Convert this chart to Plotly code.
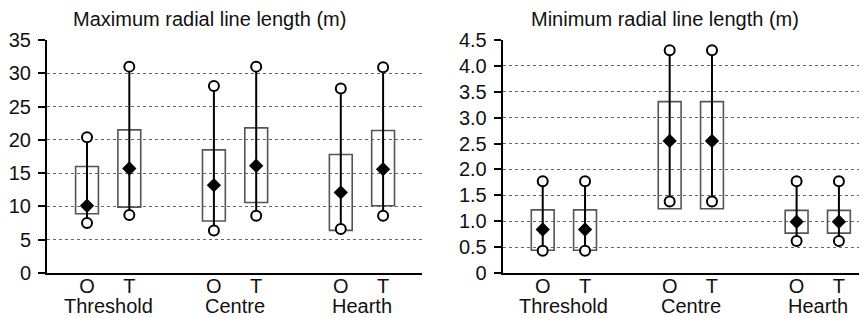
import plotly.graph_objects as go

# positions: O/T pairs for each location
positions = [1, 2, 4, 5, 7, 8]
pair_labels = ["O", "T", "O", "T", "O", "T"]
groups = ["Threshold", "Centre", "Hearth"]
group_pos = [1.5, 4.5, 7.5]

# Maximum radial line length (m)
max_top = [20.4, 31.0, 28.1, 31.0, 27.7, 30.9]
max_box_hi = [16.0, 21.5, 18.5, 21.8, 17.8, 21.4]
max_box_lo = [8.9, 9.9, 7.8, 10.6, 6.4, 10.1]
max_mid = [10.1, 15.7, 13.2, 16.1, 12.1, 15.6]
max_bot = [7.5, 8.7, 6.4, 8.6, 6.6, 8.6]

# Minimum radial line length (m)
min_top = [1.77, 1.77, 4.30, 4.30, 1.77, 1.77]
min_box_hi = [1.22, 1.22, 3.31, 3.31, 1.21, 1.21]
min_box_lo = [0.44, 0.44, 1.24, 1.24, 0.77, 0.77]
min_mid = [0.84, 0.84, 2.55, 2.55, 0.99, 0.99]
min_bot = [0.43, 0.43, 1.38, 1.38, 0.62, 0.62]

W, H = 859, 310  # page body margin of 8px shifts the figure

fig = go.Figure()

def add_panel(xa, ya, top, hi, lo, mid, bot):
    fig.add_trace(go.Bar(
        x=positions, y=[h - l for h, l in zip(hi, lo)], base=lo,
        width=0.54, marker=dict(color="rgba(0,0,0,0)",
                                line=dict(color="#555555", width=1.6)),
        xaxis=xa, yaxis=ya, showlegend=False, hoverinfo="skip"))
    wx, wy = [], []
    for p, t, b in zip(positions, top, bot):
        wx += [p, p, None]
        wy += [t, b, None]
    fig.add_trace(go.Scatter(x=wx, y=wy, mode="lines",
                             line=dict(color="black", width=2),
                             xaxis=xa, yaxis=ya, showlegend=False))
    fig.add_trace(go.Scatter(x=positions + positions, y=top + bot, mode="markers",
                             marker=dict(symbol="circle", size=10, color="white",
                                         line=dict(color="black", width=2)),
                             xaxis=xa, yaxis=ya, showlegend=False))
    fig.add_trace(go.Scatter(x=positions, y=mid, mode="markers",
                             marker=dict(symbol="diamond", size=11, color="black"),
                             xaxis=xa, yaxis=ya, showlegend=False))

add_panel("x", "y", max_top, max_box_hi, max_box_lo, max_mid, max_bot)
add_panel("x2", "y2", min_top, min_box_hi, min_box_lo, min_mid, min_bot)

font = dict(family="Liberation Sans, Arial, sans-serif", size=20, color="#111111")

xcommon = dict(tickvals=positions, ticktext=pair_labels, showgrid=False,
               zeroline=False, showline=True, linecolor="black", linewidth=2,
               ticks="", tickfont=font, automargin=False, ticklabelstandoff=-6)
ycommon = dict(showgrid=True, gridcolor="#666666", griddash="dot", gridwidth=1,
               zeroline=False, showline=True, linecolor="black", linewidth=2,
               ticks="outside", ticklen=7, tickwidth=2, tickcolor="black",
               tickfont=font, automargin=False, ticklabelstandoff=3)

max_ticks = [0, 5, 10, 15, 20, 25, 30, 35]
min_ticks = [0, 0.5, 1.0, 1.5, 2.0, 2.5, 3.0, 3.5, 4.0, 4.5]
min_ticktext = ["0", "0.5", "1.0", "1.5", "2.0", "2.5", "3.0", "3.5", "4.0", "4.5"]

ydom = [(H - 265) / H, (H - 32) / H]

fig.update_layout(
    width=W, height=H,
    margin=dict(l=0, r=0, t=0, b=0, autoexpand=False),
    paper_bgcolor="white", plot_bgcolor="white",
    barmode="overlay",
    xaxis=dict(domain=[39 / W, 414 / W], range=[0.054, 8.92], **xcommon),
    yaxis=dict(domain=ydom, range=[0, 35], tickvals=max_ticks, **ycommon),
    xaxis2=dict(domain=[494.7 / W, 858 / W], range=[0.054, 8.64], anchor="y2", **xcommon),
    yaxis2=dict(domain=ydom, range=[0, 4.5], tickvals=min_ticks,
                ticktext=min_ticktext, anchor="x2", **ycommon),
)

annotations = []
for xa in ["x", "x2"]:
    for g, gp in zip(groups, group_pos):
        annotations.append(dict(x=gp, y=(H - 298) / H, xref=xa, yref="paper",
                                text=g, showarrow=False, font=font,
                                xanchor="center", yanchor="middle"))
annotations.append(dict(x=201 / W, y=(H - 11) / H, xref="paper", yref="paper",
                        text="Maximum radial line length (m)", showarrow=False,
                        font=font, xanchor="center", yanchor="middle"))
annotations.append(dict(x=657 / W, y=(H - 11) / H, xref="paper", yref="paper",
                        text="Minimum radial line length (m)", showarrow=False,
                        font=font, xanchor="center", yanchor="middle"))
fig.update_layout(annotations=annotations)

fig.write_html("out.html")
